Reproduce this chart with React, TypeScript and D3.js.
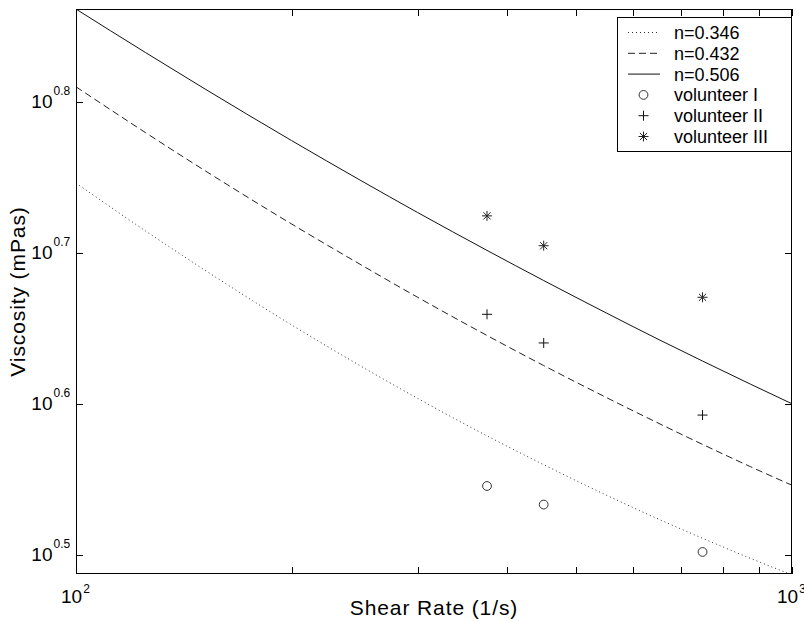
import React from 'react';
import * as d3 from 'd3';

// Model curves (shear rate in 1/s, viscosity in mPas)
const shearRates = [100, 125, 150, 200, 250, 300, 375, 450, 550, 650, 750, 875, 1000];
const viscN346 = [5.574, 5.182, 4.894, 4.49, 4.216, 4.014, 3.791, 3.628, 3.464, 3.34, 3.243, 3.145, 3.067];
const viscN432 = [6.455, 6.02, 5.696, 5.237, 4.921, 4.683, 4.418, 4.22, 4.02, 3.866, 3.742, 3.617, 3.516];
const viscN506 = [7.267, 6.802, 6.451, 5.947, 5.595, 5.329, 5.03, 4.804, 4.573, 4.393, 4.249, 4.102, 3.981];

// Measurements
const volunteerRates = [375, 450, 750];
const volunteerI = [3.512, 3.414, 3.176];
const volunteerII = [4.563, 4.368, 3.913];
const volunteerIII = [5.302, 5.066, 4.683];

// Axes
const xDomain = [100, 1000];
const yDomain = [3.071, 7.268];
const xTickExponents = ['2', '3'];
const xMinorTicks = [200, 300, 400, 500, 600, 700, 800, 900];
const yTickExponents = ['0.5', '0.6', '0.7', '0.8'];
const lineLabels = ['n=0.346', 'n=0.432', 'n=0.506'];
const markerLabels = ['volunteer I', 'volunteer II', 'volunteer III'];

const FONT = '"Liberation Sans", Arial, Helvetica, sans-serif';

export default function App() {
  const W = 804, H = 621;
  const left = 76, right = 792, top = 9, bottom = 574;
  const x = d3.scaleLog().domain(xDomain).range([left, right]);
  const y = d3.scaleLog().domain(yDomain).range([bottom, top]);
  const line = d3.line<number>().x((_, i) => x(shearRates[i])).y((d) => y(d)).curve(d3.curveMonotoneX);

  const curves = [
    { data: viscN346, dash: '1,3', color: '#333' },
    { data: viscN432, dash: '7,4', color: '#222' },
    { data: viscN506, dash: undefined as string | undefined, color: '#111' },
  ];

  const tick = 7;
  const ax = '#000';

  const circle = (cx: number, cy: number, k: string) => (
    <circle key={k} cx={cx} cy={cy} r={4.4} fill="none" stroke="#333" strokeWidth={1} />
  );
  const plus = (cx: number, cy: number, k: string) => (
    <path key={k} d={`M${cx - 5},${cy}H${cx + 5}M${cx},${cy - 5}V${cy + 5}`} stroke="#111" strokeWidth={1} fill="none" />
  );
  const star = (cx: number, cy: number, k: string) => (
    <path
      key={k}
      d={`M${cx - 5},${cy}H${cx + 5}M${cx},${cy - 5}V${cy + 5}M${cx - 3.6},${cy - 3.6}L${cx + 3.6},${cy + 3.6}M${cx - 3.6},${cy + 3.6}L${cx + 3.6},${cy - 3.6}`}
      stroke="#222"
      strokeWidth={1}
      fill="none"
    />
  );
  const markerFns = [circle, plus, star];
  const markerData = [volunteerI, volunteerII, volunteerIII];

  // legend
  const lgX0 = 617, lgX1 = 792, lgY0 = 17, lgY1 = 152;
  const rowY = (i: number) => 32.5 + i * 20.8;

  return (
    <svg width={W} height={H} style={{ position: 'absolute', left: 0, top: 0, background: '#fff' }} fontFamily={FONT}>
      <rect x={0} y={0} width={W} height={H} fill="#fff" />
      <defs>
        <clipPath id="plotClip">
          <rect x={left} y={top} width={right - left} height={bottom - top} />
        </clipPath>
      </defs>

      {/* curves */}
      <g clipPath="url(#plotClip)">
        {curves.map((c, i) => (
          <path key={i} d={line(c.data) || ''} fill="none" stroke={c.color} strokeWidth={1} strokeDasharray={c.dash} />
        ))}
      </g>

      {/* markers */}
      {markerData.map((arr, si) =>
        arr.map((v, i) => markerFns[si](x(volunteerRates[i]), y(v), `m${si}-${i}`))
      )}

      {/* axes box */}
      <rect x={left + 0.5} y={top + 0.5} width={right - left - 1} height={bottom - top - 1} fill="none" stroke={ax} strokeWidth={1} shapeRendering="crispEdges" />

      {/* x ticks */}
      {[...xMinorTicks, ...xTickExponents.map((e) => Math.pow(10, +e))].map((t, i) => {
        const px = Math.round(x(t)) + 0.5;
        return (
          <g key={`xt${i}`} stroke={ax} strokeWidth={1} shapeRendering="crispEdges">
            <line x1={px} x2={px} y1={bottom} y2={bottom - tick} />
            <line x1={px} x2={px} y1={top} y2={top + tick} />
          </g>
        );
      })}
      {/* y ticks */}
      {yTickExponents.map((e, i) => {
        const py = Math.round(y(Math.pow(10, +e))) + 0.5;
        return (
          <g key={`yt${i}`} stroke={ax} strokeWidth={1} shapeRendering="crispEdges">
            <line x1={left} x2={left + tick} y1={py} y2={py} />
            <line x1={right} x2={right - tick} y1={py} y2={py} />
          </g>
        );
      })}

      {/* x tick labels */}
      {xTickExponents.map((e, i) => {
        const px = x(Math.pow(10, +e));
        return (
          <text key={`xl${i}`} x={px - 15} y={603} fontSize={19} fill="#000">
            10
            <tspan dx={1} dy={-10} fontSize={12}>{e}</tspan>
          </text>
        );
      })}

      {/* y tick labels */}
      {yTickExponents.map((e, i) => {
        const py = y(Math.pow(10, +e));
        return (
          <g key={`yl${i}`}>
            <text x={52.5} y={py + 6.5} fontSize={19} textAnchor="end" fill="#000">10</text>
            <text x={53.5} y={py - 6.5} fontSize={12} fill="#000">{e}</text>
          </g>
        );
      })}

      {/* axis titles */}
      <text x={(left + right) / 2} y={615} fontSize={21} letterSpacing={0.9} textAnchor="middle" fill="#000">
        Shear Rate (1/s)
      </text>
      <text
        transform={`translate(25,${(top + bottom) / 2}) rotate(-90)`}
        fontSize={21}
        letterSpacing={0.9}
        textAnchor="middle"
        fill="#000"
      >
        Viscosity (mPas)
      </text>

      {/* legend */}
      <rect x={lgX0 + 0.5} y={lgY0 + 0.5} width={lgX1 - lgX0 - 1} height={lgY1 - lgY0 - 1} fill="#fff" stroke={ax} strokeWidth={1} shapeRendering="crispEdges" />
      {lineLabels.map((lab, i) => (
        <g key={`lg${i}`}>
          <line x1={628} x2={660} y1={rowY(i)} y2={rowY(i)} stroke={curves[i].color} strokeWidth={1} strokeDasharray={curves[i].dash} />
          <text x={674} y={rowY(i) + 6.5} fontSize={18} fill="#000">{lab}</text>
        </g>
      ))}
      {markerLabels.map((lab, i) => (
        <g key={`lm${i}`}>
          {markerFns[i](643.5, rowY(i + 3), `lmm${i}`)}
          <text x={674} y={rowY(i + 3) + 6.5} fontSize={18} fill="#000">{lab}</text>
        </g>
      ))}
    </svg>
  );
}
